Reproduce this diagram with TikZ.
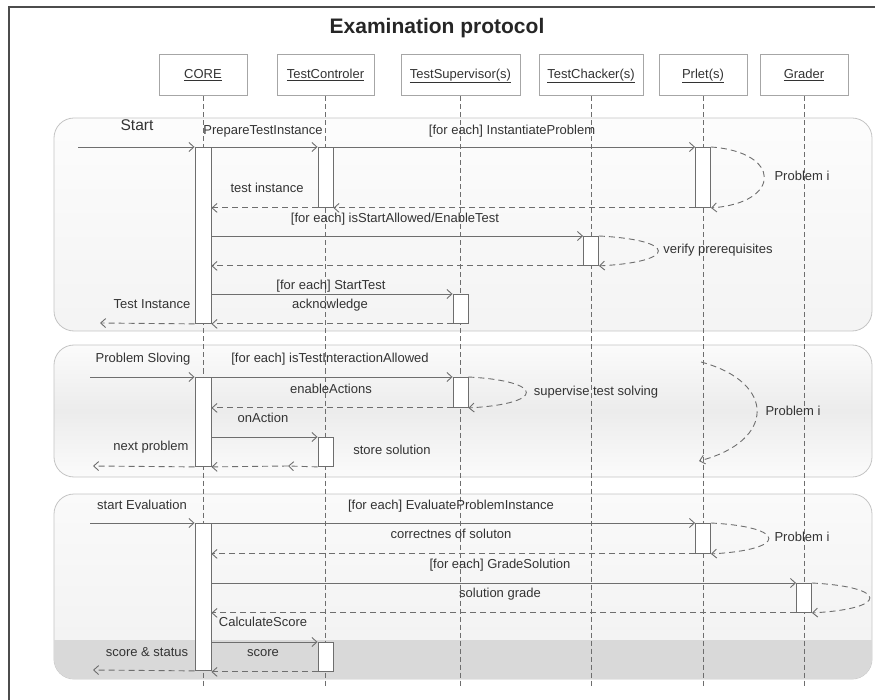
\documentclass[tikz,border=0pt]{standalone}
\usepackage{fontspec}
\setmainfont{Liberation Sans}
\usepackage{tikz}
\usetikzlibrary{arrows.meta, positioning}

\definecolor{linegray}{HTML}{6E6E6E}
\definecolor{textgray}{HTML}{333333}
\definecolor{framegray}{HTML}{C4C4C4}

\tikzstyle{lifebox} = [rectangle, draw=gray!70, line width=1pt, fill=white, minimum height=41pt, text=textgray, font=\fontsize{13}{15}\selectfont, text height=10pt, text depth=4pt]
\tikzstyle{activation} = [rectangle, draw=linegray, line width=0.9pt, fill=white, minimum width=15pt, anchor=north, inner sep=0pt]
\tikzstyle{lifeline} = [draw=linegray, line width=0.9pt, dash pattern=on 5pt off 3pt]
\tikzstyle{msg} = [draw=linegray, line width=0.9pt, -{Straight Barb[length=5pt,width=9pt]}]
\tikzstyle{ret} = [msg, dash pattern=on 6pt off 4pt]
\tikzstyle{lbl} = [text=textgray, font=\fontsize{13}{15}\selectfont, inner sep=1pt, text height=9.5pt, text depth=2.5pt]
\tikzstyle{fragment} = [rectangle, draw=framegray, line width=0.8pt, rounded corners=20pt, minimum width=818pt]

\begin{document}
\begin{tikzpicture}[x=1pt, y=-1pt, node distance=20pt]
    \useasboundingbox (0,0) rectangle (875,700);

    % Border and title
    \draw[draw=gray!60!black, line width=1.5pt] (9,700) -- (9,7) -- (875,7);
    \node (title) [font=\bfseries\fontsize{21}{25}\selectfont, text=black!85] at (437,28) {Examination protocol};

    % Fragments
    \node (fragA) [fragment, top color=gray!2, bottom color=gray!9, minimum height=213pt] at (463,224.5) {};
    \node (fragB) [fragment, top color=gray!3, bottom color=gray!3, middle color=gray!15, minimum height=132pt] at (463,411) {};
    \node (fragC) [fragment, top color=gray!4, bottom color=gray!11, minimum height=185pt] at (463,586.5) {};
    \begin{scope}
        \clip[rounded corners=20pt] (54,494) rectangle (872,679);
        \fill[gray!30] (54,640) rectangle (872,679);
    \end{scope}

    % Lifelines
    \node (core) [lifebox, minimum width=88pt] at (203,75.5) {\underline{CORE}};
    \node (ctrl) [lifebox, minimum width=97pt, right=29pt of core] {\underline{TestControler}};
    \node (sup) [lifebox, minimum width=119pt, right=26pt of ctrl] {\underline{TestSupervisor(s)}};
    \node (chk) [lifebox, minimum width=104pt, right=18pt of sup] {\underline{TestChacker(s)}};
    \node (prlet) [lifebox, minimum width=88pt, right=15pt of chk] {\underline{Prlet(s)}};
    \node (grader) [lifebox, minimum width=88pt, right=12pt of prlet] {\underline{Grader}};

    \draw[lifeline] (core.south) -- (core.south |- 0,688);
    \draw[lifeline] (ctrl.south) -- (ctrl.south |- 0,688);
    \draw[lifeline] (sup.south) -- (sup.south |- 0,688);
    \draw[lifeline] (chk.south) -- (chk.south |- 0,688);
    \draw[lifeline] (prlet.south) -- (prlet.south |- 0,688);
    \draw[lifeline] (grader.south) -- (grader.south |- 0,688);

    % Activations
    \node (core1) [activation, minimum width=16pt, minimum height=176pt] at (core |- 0,147) {};
    \node (ctrl1) [activation, minimum height=60pt] at (ctrl |- 0,147) {};
    \node (prlet1) [activation, minimum height=60pt] at (prlet |- 0,147) {};
    \node (chk1) [activation, minimum height=29pt] at (chk |- 0,236) {};
    \node (sup1) [activation, minimum height=29pt] at (sup |- 0,294) {};

    \node (core2) [activation, minimum width=16pt, minimum height=89pt] at (core |- 0,377) {};
    \node (sup2) [activation, minimum height=30pt] at (sup |- 0,377) {};
    \node (ctrl2) [activation, minimum height=29pt] at (ctrl |- 0,437) {};

    \node (core3) [activation, minimum width=16pt, minimum height=147pt] at (core |- 0,523) {};
    \node (prlet3) [activation, minimum height=30pt] at (prlet |- 0,523) {};
    \node (grader3) [activation, minimum height=29pt] at (grader |- 0,583) {};
    \node (ctrl3) [activation, minimum height=29pt] at (ctrl |- 0,642) {};

    % ==== Messages
    % Start
    \coordinate (inA) at (78,147);
    \coordinate (outA) at (100,323);
    \draw[msg] (inA) -- (core1.north west);
    \draw[msg] (core1.north east) -- (ctrl1.north west);
    \draw[msg] (ctrl1.north east) -- (prlet1.north west);
    \draw[ret] (prlet1.north east) .. controls +(71,5) and +(71,-5) .. (prlet1.south east);
    \draw[ret] (prlet1.south west) -- (ctrl1.south east);
    \draw[ret] (ctrl1.south west) -- (core1.east |- ctrl1.south);
    \draw[msg] (core1.east |- chk1.north) -- (chk1.north west);
    \draw[ret] (chk1.north east) .. controls +(79,4) and +(79,-4) .. (chk1.south east);
    \draw[ret] (chk1.south west) -- (core1.east |- chk1.south);
    \draw[msg] (core1.east |- sup1.north) -- (sup1.north west);
    \draw[ret] (sup1.south west) -- (core1.south east);
    \draw[ret] (core1.south west) -- (outA);

    % Problem solving
    \coordinate (inB) at (90,377);
    \coordinate (midB) at (288,466);
    \coordinate (outB) at (93,466);
    \coordinate (loopTop) at (701,362);
    \coordinate (loopBot) at (699,461);
    \draw[msg] (inB) -- (core2.north west);
    \draw[msg] (core2.north east) -- (sup2.north west);
    \draw[ret] (sup2.north east) .. controls +(77,4) and +(77,-4) .. (sup2.south east);
    \draw[ret] (sup2.south west) -- (core2.east |- sup2.south);
    \draw[msg] (core2.east |- ctrl2.north) -- (ctrl2.north west);
    \draw[ret] (ctrl2.south west) -- (midB);
    \draw[ret] (midB) -- (core2.south east);
    \draw[ret] (core2.south west) -- (outB);
    \draw[ret] (loopTop) .. controls (776,382) and (776,441) .. (loopBot);

    % Evaluation
    \coordinate (inC) at (90,523);
    \coordinate (outC) at (93,670);
    \draw[msg] (inC) -- (core3.north west);
    \draw[msg] (core3.north east) -- (prlet3.north west);
    \draw[ret] (prlet3.north east) .. controls +(77,4) and +(77,-4) .. (prlet3.south east);
    \draw[ret] (prlet3.south west) -- (core3.east |- prlet3.south);
    \draw[msg] (core3.east |- grader3.north) -- (grader3.north west);
    \draw[ret] (grader3.north east) .. controls +(77,4) and +(77,-4) .. (grader3.south east);
    \draw[ret] (grader3.south west) -- (core3.east |- grader3.south);
    \draw[msg] (core3.east |- ctrl3.north) -- (ctrl3.north west);
    \draw[ret] (ctrl3.south west) -- (core3.east |- ctrl3.south);
    \draw[ret] (core3.south west) -- (outC);

    % ==== Labels
    \node (lStart) [lbl, font=\fontsize{15.5}{18}\selectfont] at (137,127) {Start};
    \node (lPrep) [lbl] at (263,131) {PrepareTestInstance};
    \node (lInst) [lbl] at (512,131) {[for each] InstantiateProblem};
    \node (lProbA) [lbl] at (802,177) {Problem i};
    \node (lTestInst) [lbl] at (267,189) {test instance};
    \node (lAllow) [lbl] at (395,219) {[for each] isStartAllowed/EnableTest};
    \node (lVerify) [lbl] at (718,250) {verify prerequisites};
    \node (lStartTest) [lbl] at (331,286) {[for each] StartTest};
    \node (lAck) [lbl] at (330,305) {acknowledge};
    \node (lInstOut) [lbl] at (152,305) {Test Instance};

    \node (lSolve) [lbl] at (143,359) {Problem Sloving};
    \node (lInter) [lbl] at (330,359) {[for each] isTestInteractionAllowed};
    \node (lEnable) [lbl] at (331,390) {enableActions};
    \node (lSuper) [lbl] at (596,392) {supervise test solving};
    \node (lProbB) [lbl] at (793,412) {Problem i};
    \node (lOnAct) [lbl] at (263,419) {onAction};
    \node (lNext) [lbl] at (151,447) {next problem};
    \node (lStore) [lbl] at (392,451) {store solution};

    \node (lEval) [lbl] at (142,506) {start Evaluation};
    \node (lEvalInst) [lbl] at (451,506) {[for each] EvaluateProblemInstance};
    \node (lCorr) [lbl] at (451,535) {correctnes of soluton};
    \node (lProbC) [lbl] at (802,538) {Problem i};
    \node (lGrade) [lbl] at (500,565) {[for each] GradeSolution};
    \node (lSolGrade) [lbl] at (500,594) {solution grade};
    \node (lCalc) [lbl] at (263,623) {CalculateScore};
    \node (lScore) [lbl] at (263,653) {score};
    \node (lStatus) [lbl] at (147,653) {score \& status};

\end{tikzpicture}
\end{document}
